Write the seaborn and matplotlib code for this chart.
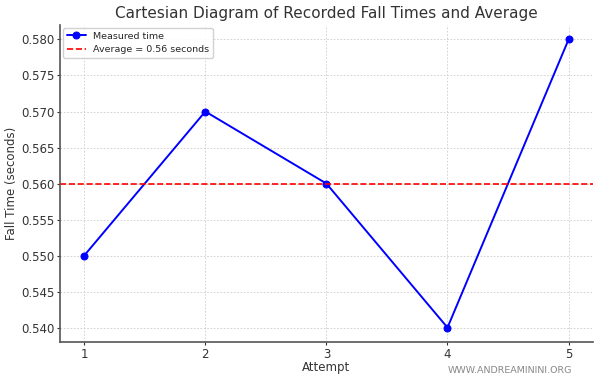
import matplotlib
matplotlib.use('Agg')
import matplotlib.pyplot as plt
import seaborn as sns
import pandas as pd

# Data.
attempts = [1, 2, 3, 4, 5]
fall_times = [0.55, 0.57, 0.56, 0.54, 0.58]
average = 0.56

sns.set_style('ticks')
plt.rcParams['font.family'] = ['DejaVu Sans']

df = pd.DataFrame({'Attempt': attempts, 'Fall Time': fall_times})

fig = plt.figure(figsize=(6, 3.8), dpi=100)
ax = fig.add_axes([0.1, 0.1, 0.888, 0.834])

sns.lineplot(data=df, x='Attempt', y='Fall Time', ax=ax, color='blue',
             marker='o', markersize=5, markeredgecolor='blue', linewidth=1.4,
             label='Measured time')
ax.axhline(average, color='red', linestyle='--', linewidth=1.2,
           label='Average = {:.2f} seconds'.format(average))

# Axes setup.
ax.set_title('Cartesian Diagram of Recorded Fall Times and Average', fontsize=11, color='#333333', pad=5)
ax.set_xlabel('Attempt', fontsize=8.5, color='#333333', labelpad=0)
ax.set_ylabel('Fall Time (seconds)', fontsize=8.5, color='#333333', labelpad=2)
ax.set_xticks(attempts)
ax.tick_params(labelsize=8.5, colors='#333333', length=2.5, width=0.8, pad=1.5)
ax.yaxis.set_major_formatter(matplotlib.ticker.FormatStrFormatter('%.3f'))
ax.grid(True, linestyle=(0, (2, 2)), color='#cccccc', linewidth=0.6)
for s in ['top', 'right']:
  ax.spines[s].set_visible(False)
for s in ['left', 'bottom']:
  ax.spines[s].set_color('#555555')
  ax.spines[s].set_linewidth(1.2)
ax.legend(loc='upper left', fontsize=6.8, framealpha=0.9, borderaxespad=0.3)

fig.text(0.953, 0.012, 'WWW.ANDREAMININI.ORG', ha='right', va='bottom',
         fontsize=6.8, color='#888888')

fig.savefig('out.png', dpi=100)
